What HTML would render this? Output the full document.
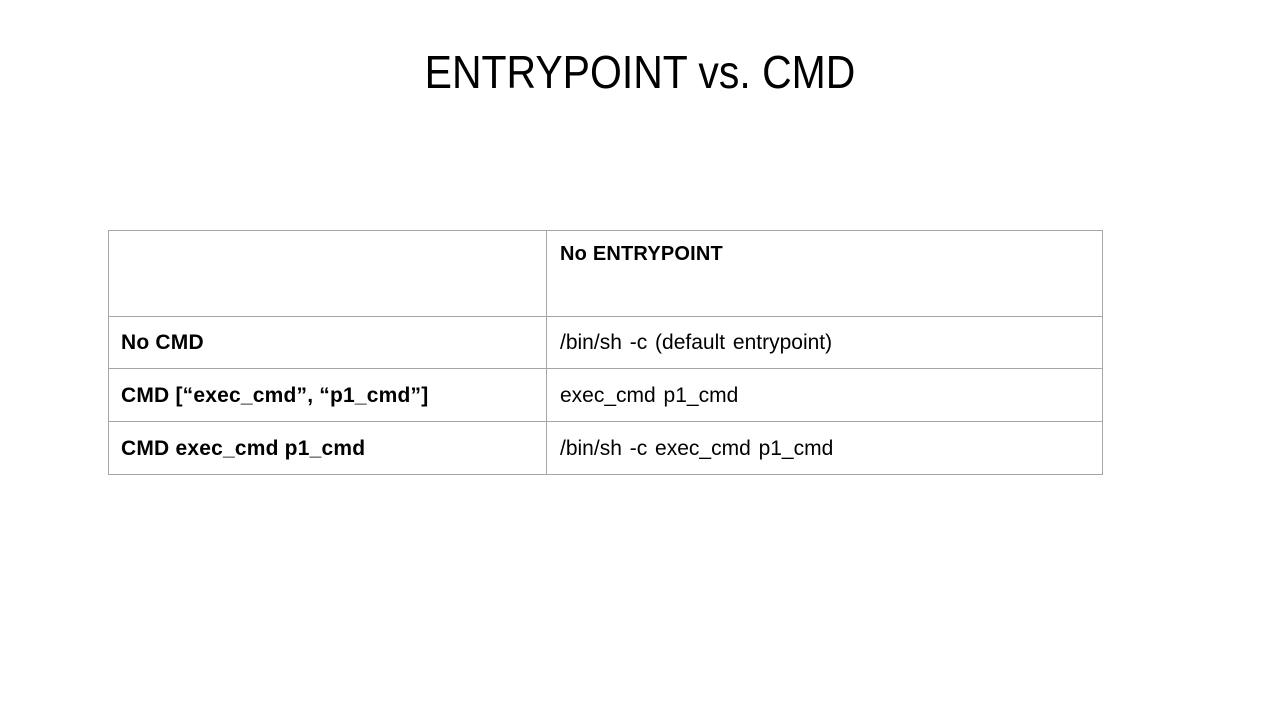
<!DOCTYPE html>
<html><head><meta charset="utf-8"><style>
html,body{margin:0;padding:0;background:#fff;}
body{width:1280px;height:720px;position:relative;overflow:hidden;font-family:"Liberation Sans",Arial,sans-serif;}
.title{position:absolute;left:0;width:1280px;top:45px;text-align:center;font-size:46px;color:#000;transform:scaleX(0.89);transform-origin:640px 0;}
.h{position:absolute;background:#a6a6a6;height:1px;left:108px;width:995px;}
.v{position:absolute;background:#a6a6a6;width:1px;top:230px;height:245px;}
.t{position:absolute;font-size:21px;color:#000;line-height:24px;white-space:nowrap;word-spacing:2px;}
.b{font-weight:bold;word-spacing:0;letter-spacing:0.2px;}
</style></head><body>
<div class="title">ENTRYPOINT vs. CMD</div>
<div class="h" style="top:230px"></div>
<div class="h" style="top:316px"></div>
<div class="h" style="top:368px"></div>
<div class="h" style="top:421px"></div>
<div class="h" style="top:474px"></div>
<div class="v" style="left:108px"></div>
<div class="v" style="left:546px"></div>
<div class="v" style="left:1102px"></div>
<div class="t b" style="left:560px;top:242px;font-size:20px">No ENTRYPOINT</div>
<div class="t b" style="left:121px;top:331px">No CMD</div>
<div class="t" style="left:560px;top:331px">/bin/sh -c (default entrypoint)</div>
<div class="t b" style="left:121px;top:384px">CMD [“exec_cmd”, “p1_cmd”]</div>
<div class="t" style="left:560px;top:384px">exec_cmd p1_cmd</div>
<div class="t b" style="left:121px;top:437px">CMD exec_cmd p1_cmd</div>
<div class="t" style="left:560px;top:437px">/bin/sh -c exec_cmd p1_cmd</div>
</body></html>
